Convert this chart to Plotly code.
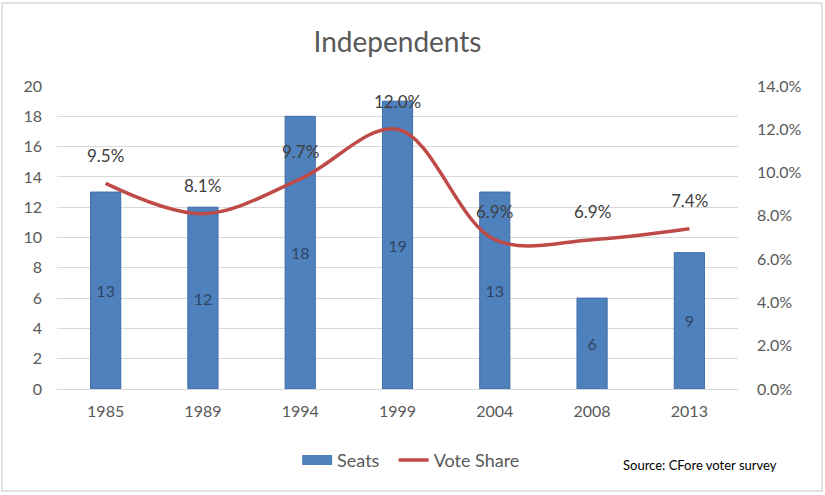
import plotly.graph_objects as go

years = ["1985", "1989", "1994", "1999", "2004", "2008", "2013"]
seats = [13, 12, 18, 19, 13, 6, 9]
vote_share = [0.095, 0.081, 0.097, 0.120, 0.069, 0.069, 0.074]
vote_labels = ["9.5%", "8.1%", "9.7%", "12.0%", "6.9%", "6.9%", "7.4%"]

FONT = "Lato, 'Open Sans', sans-serif"
GRAY = "#595959"
BLUE = "#4F81BD"
RED = "#BE4B48"

fig = go.Figure()
fig.add_trace(go.Bar(
    x=years, y=seats, name="Seats", showlegend=False,
    marker=dict(color=BLUE, line=dict(color="#3E6DA8", width=1)),
    width=0.31,
    text=[str(s) for s in seats], textposition="inside", insidetextanchor="middle",
    textfont=dict(color="#2F4563", size=16, family=FONT),
    hoverinfo="skip",
))
# legend-only entry to get a wide rectangular swatch like the reference
fig.add_trace(go.Scatter(
    x=[None], y=[None], name="Seats  ", mode="lines",
    line=dict(color=BLUE, width=10), hoverinfo="skip",
))
fig.add_trace(go.Scatter(
    x=years, y=vote_share, name="Vote Share", yaxis="y2", mode="lines",
    line=dict(color=RED, width=3.5, shape="spline", smoothing=1.0),
    hoverinfo="skip",
))

for i, (v, lab) in enumerate(zip(vote_share, vote_labels)):
    fig.add_annotation(x=i, y=v, yref="y2", xref="x", text=lab, showarrow=False,
                       yshift=28, font=dict(size=17, color="#404040", family=FONT))

fig.add_annotation(xref="paper", yref="paper", x=0.944, y=-0.25, xanchor="center",
                   yanchor="middle", text="Source: CFore voter survey", showarrow=False,
                   font=dict(size=13, color="#000000", family=FONT))

fig.add_shape(type="rect", xref="paper", yref="paper", x0=-0.0808, x1=1.1233,
              y0=-0.3366, y1=1.274, line=dict(color="#D9D9D9", width=1.5))

fig.update_layout(
    width=825, height=495,
    margin=dict(l=57, r=87, t=86, b=106),
    paper_bgcolor="white", plot_bgcolor="white",
    title=dict(text="Independents", x=0.5, xref="paper", y=0.915, yanchor="middle",
               font=dict(size=28, color=GRAY, family=FONT)),
    font=dict(family=FONT, color=GRAY),
    xaxis=dict(type="category", range=[-0.5, 6.5], showgrid=False, showline=True,
               linecolor="#D9D9D9", ticks="", ticklabelstandoff=8,
               tickfont=dict(size=16, color=GRAY, family=FONT)),
    yaxis=dict(range=[0, 20], dtick=2, showgrid=True, gridcolor="#D9D9D9", gridwidth=1,
               zeroline=False, showline=False, ticks="", ticklabelstandoff=14,
               tickfont=dict(size=16, color=GRAY, family=FONT)),
    yaxis2=dict(range=[0, 0.14], dtick=0.02, tickformat=".1%", overlaying="y", side="right",
                showgrid=False, zeroline=False, showline=False, ticklabelstandoff=18,
                tickfont=dict(size=16, color=GRAY, family=FONT)),
    legend=dict(orientation="h", x=0.52, y=-0.235, xanchor="center", yanchor="middle",
                font=dict(size=18, color=GRAY, family=FONT), traceorder="normal",
                itemwidth=30),
    showlegend=True,
)

fig.write_html("out.html")
